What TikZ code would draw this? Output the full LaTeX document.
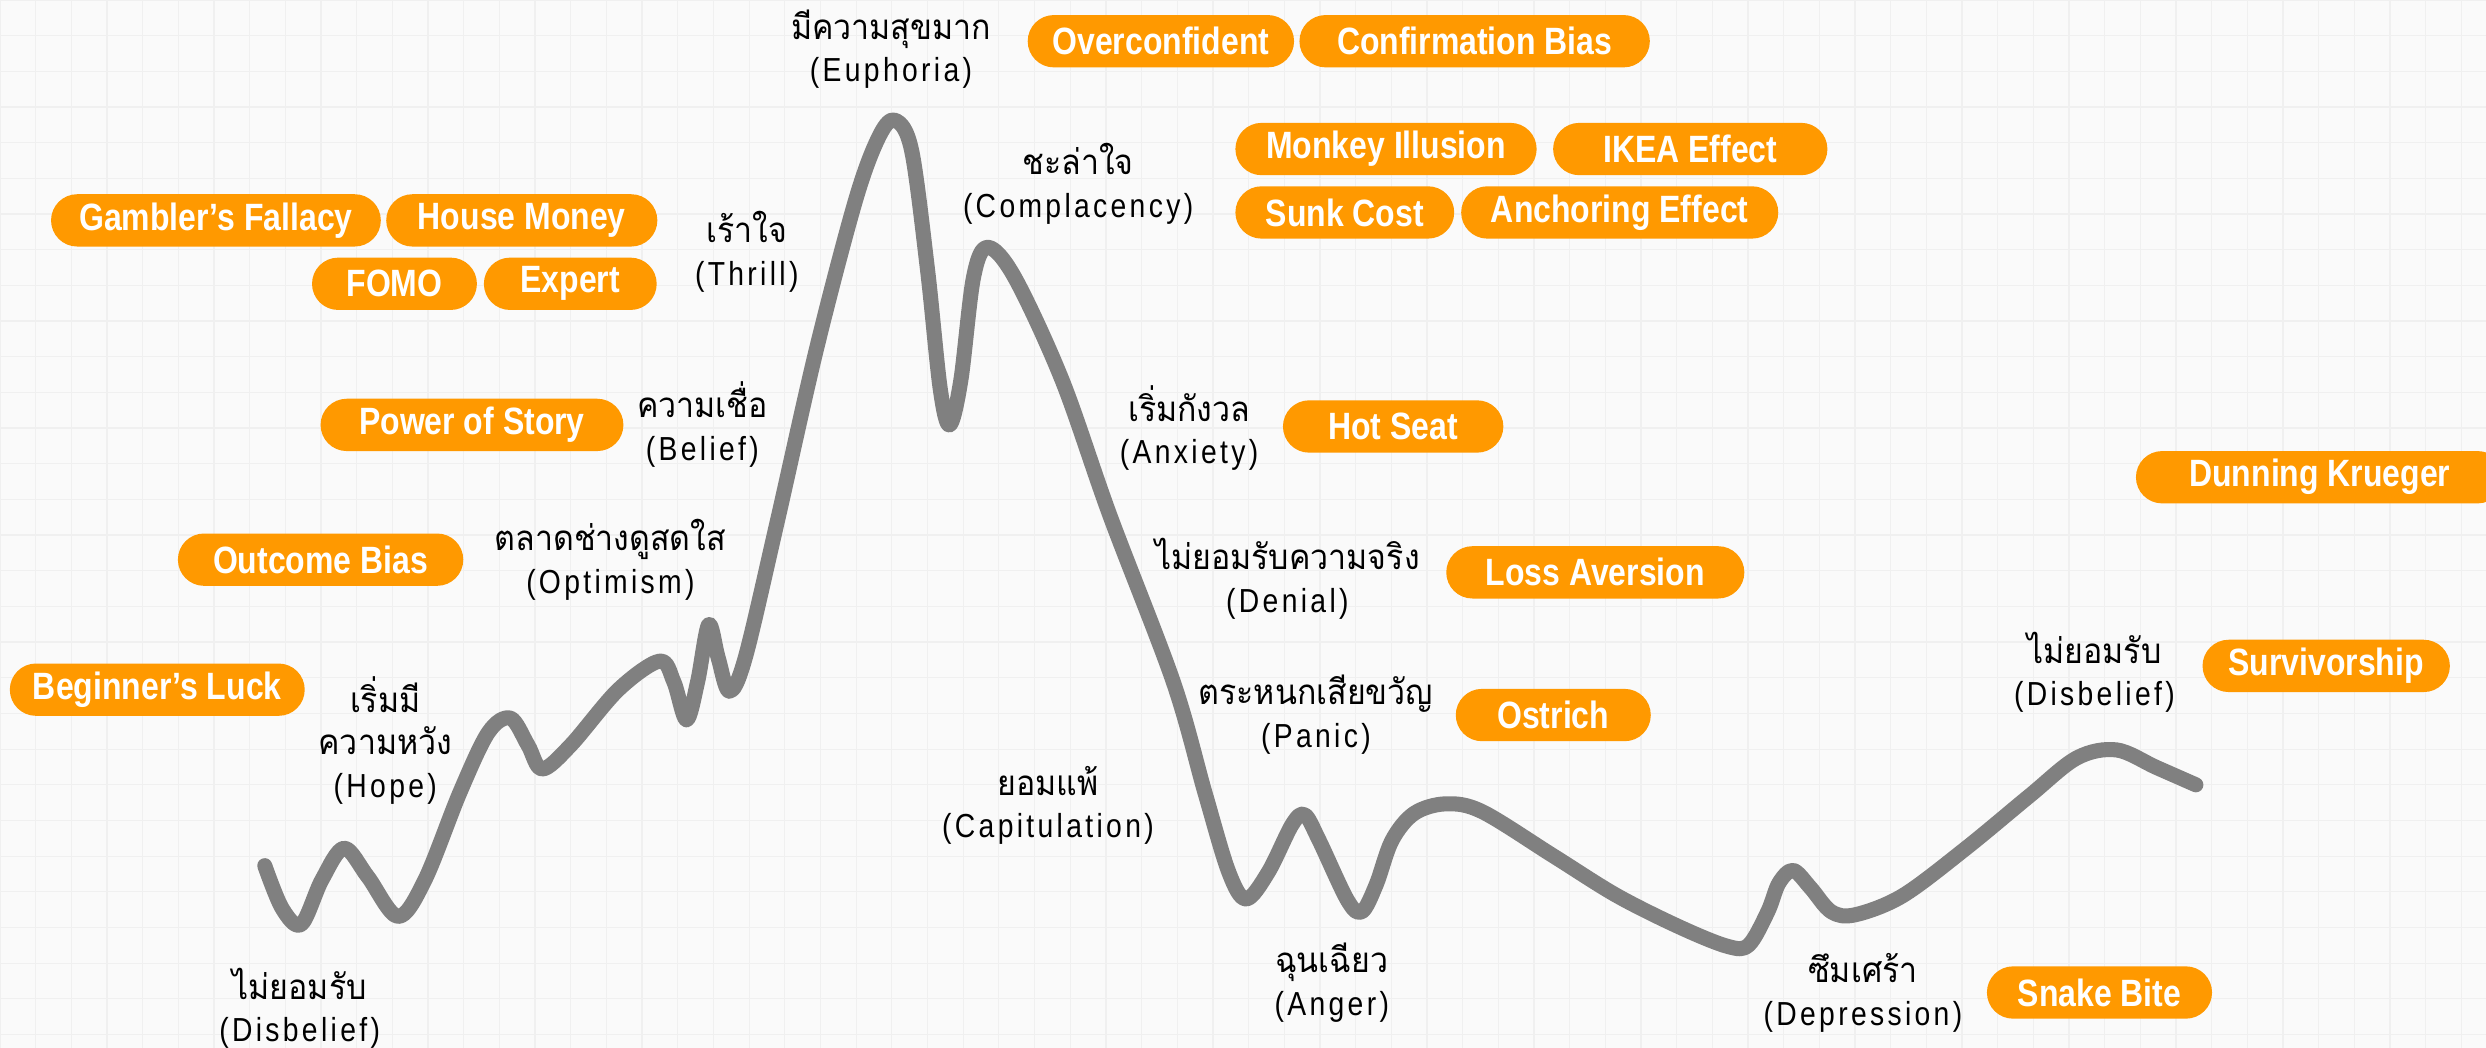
\documentclass[tikz,border=0pt]{standalone}
\usepackage{fontspec}
\newfontfamily\thaifont[Script=Thai,FakeStretch=0.92]{Loma}
\newfontfamily\latinfont[FakeStretch=0.85,LetterSpace=10]{Liberation Sans}
\newfontfamily\pillfont[FakeStretch=0.84]{Liberation Sans}
\usetikzlibrary{calc}
\definecolor{pillorange}{HTML}{FF9900}
\definecolor{curvegray}{HTML}{808080}
\definecolor{paper}{HTML}{FAFAFA}
\definecolor{gridgray}{HTML}{F0F0F0}
\newcommand{\eng}[1]{{\latinfont\fontsize{21}{27}\selectfont #1}}

\begin{document}
\begin{tikzpicture}[x=1pt,y=-1pt,
  bias/.style={fill=pillorange,text=white,rounded corners=16.5pt,minimum height=33pt,inner sep=0pt,anchor=west,font=\pillfont\bfseries\fontsize{24}{24}\selectfont},
  phase/.style={align=center,inner sep=0pt,font=\thaifont\fontsize{22}{27}\selectfont}]

  % Paper:
  \fill[paper] (0,0) rectangle (1568,661);
  \clip (0,0) rectangle (1568,661);
  \draw[gridgray,line width=0.8pt,xstep=22.5pt,ystep=22.5pt] (0,0) grid (1568,661);

  % Market cycle
  \draw[curvegray,line width=9.5pt,line cap=round,line join=round] plot[smooth,tension=0.55] coordinates {
    (167,546) (178,573) (190,583) (203,555) (217,535) (232,553) (251,578) (268,555)
    (290,500) (308,462) (322,453) (333,470) (342,485) (360,470) (390,435) (416,417)
    (425,430) (433,454) (440,430) (447,394) (453,415) (460,436) (470,415) (490,330)
    (515,220) (540,125) (555,85) (565,76) (575,95) (585,170) (593,245) (599,268)
    (606,240) (614,175) (623,156) (640,175) (670,240) (700,325) (740,430) (760,500)
    (775,550) (786,567) (800,550) (815,520) (823,514) (832,530) (850,568) (859,575)
    (868,558) (878,530) (892,513) (912,507) (935,512) (980,540) (1020,565) (1060,585)
    (1090,597) (1103,596) (1115,575) (1122,557) (1131,549) (1142,560) (1155,575) (1170,577)
    (1200,565) (1240,535) (1280,502) (1310,478) (1335,473) (1360,484) (1385,495)};

  % Stages
  \node[phase] (disbelief) at (189,636) {ไม่ยอมรับ\\\eng{(Disbelief)}};
  \node[phase] (hope) at (243,467) {เริ่มมี\\ความหวัง\\\eng{(Hope)}};
  \node[phase] (optimism) at (385,353) {ตลาดช่างดูสดใส\\\eng{(Optimism)}};
  \node[phase] (belief) at (443,268) {ความเชื่อ\\\eng{(Belief)}};
  \node[phase] (thrill) at (471,159) {เร้าใจ\\\eng{(Thrill)}};
  \node[phase] (euphoria) at (562,31) {มีความสุขมาก\\\eng{(Euphoria)}};
  \node[phase] (complacency) at (680,116) {ชะล่าใจ\\\eng{(Complacency)}};
  \node[phase] (anxiety) at (750,270) {เริ่มกังวล\\\eng{(Anxiety)}};
  \node[phase] (denial) at (812,365) {ไม่ยอมรับความจริง\\\eng{(Denial)}};
  \node[phase] (panic) at (830,451) {ตระหนกเสียขวัญ\\\eng{(Panic)}};
  \node[phase] (capitulation) at (661,508) {ยอมแพ้\\\eng{(Capitulation)}};
  \node[phase] (anger) at (840,620) {ฉุนเฉียว\\\eng{(Anger)}};
  \node[phase] (depression) at (1175,626) {ซึมเศร้า\\\eng{(Depression)}};
  \node[phase] (disbeliefb) at (1321,424) {ไม่ยอมรับ\\\eng{(Disbelief)}};

  % Biases
  \node[bias,minimum width=168] (overconf) at (648,26) {Overconfident};
  \node[bias,minimum width=221] (confirm) at ($(overconf.east)+(3,0)$) {Confirmation Bias};
  \node[bias,minimum width=190] (monkey) at (779,94) {Monkey Illusion};
  \node[bias,minimum width=173] (ikea) at ($(monkey.east)+(10,0)$) {IKEA Effect};
  \node[bias,minimum width=138] (sunk) at (779,134) {Sunk Cost};
  \node[bias,minimum width=200] (anchoring) at ($(sunk.east)+(4,0)$) {Anchoring Effect};
  \node[bias,minimum width=208] (gambler) at (32,139) {Gambler’s Fallacy};
  \node[bias,minimum width=171] (house) at ($(gambler.east)+(3,0)$) {House Money};
  \node[bias,minimum width=109] (expert) at (305,179) {Expert};
  \node[bias,minimum width=104,anchor=east] (fomo) at ($(expert.west)+(-4,0)$) {FOMO};
  \node[bias,minimum width=191] (story) at (202,268) {Power of Story};
  \node[bias,minimum width=180] (outcome) at (112,353) {Outcome Bias};
  \node[bias,minimum width=186] (beginner) at (6,435) {Beginner’s Luck};
  \node[bias,minimum width=139] (hotseat) at (809,269) {Hot Seat};
  \node[bias,minimum width=232] (dunning) at (1347,301) {Dunning Krueger};
  \node[bias,minimum width=188] (lossav) at (912,361) {Loss Aversion};
  \node[bias,minimum width=123] (ostrich) at (918,451) {Ostrich};
  \node[bias,minimum width=156] (survivor) at (1389,420) {Survivorship};
  \node[bias,minimum width=142] (snake) at (1253,626) {Snake Bite};

\end{tikzpicture}
\end{document}
